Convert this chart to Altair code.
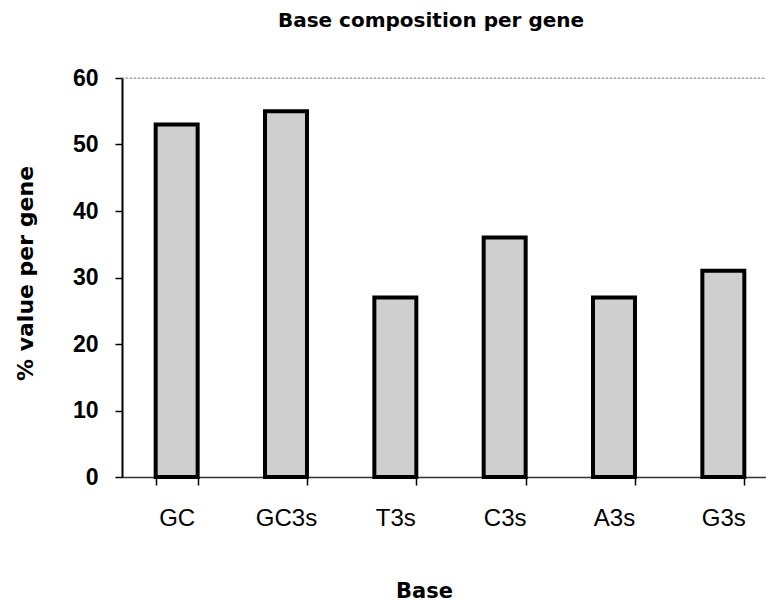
import altair as alt
import pandas as pd

categories = ["GC", "GC3s", "T3s", "C3s", "A3s", "G3s"]
values = [53, 55, 27, 36, 27, 31]
y_ticks = [0, 10, 20, 30, 40, 50, 60]

df = pd.DataFrame({"Base": categories, "value": values})

x_enc = alt.X(
    "Base:N",
    sort=categories,
    scale=alt.Scale(range=[0, 656], paddingInner=0.616, paddingOuter=0.308),
    axis=alt.Axis(
        title="Base",
        titleFont="DejaVu Sans",
        titleFontSize=21,
        titleFontWeight="bold",
        titleColor="black",
        titleX=302,
        titleY=120,
        titleBaseline="alphabetic",
        titleAlign="center",
        labelFont="Liberation Sans",
        labelFontSize=24,
        labelColor="black",
        labelAngle=0,
        labelBaseline="alphabetic",
        labelPadding=40,
        tickBand="extent",
        tickSize=8,
        tickWidth=1.5,
        tickColor="black",
        domainColor="#333333",
        domainWidth=1.5,
        grid=False,
    ),
)

y_enc = alt.Y(
    "value:Q",
    scale=alt.Scale(domain=[0, 60], nice=False),
    axis=alt.Axis(
        title="% value per gene",
        values=y_ticks,
        titleFont="DejaVu Sans",
        titleFontSize=22,
        titleFontWeight="bold",
        titleColor="black",
        titleAngle=-90,
        titleX=-97,
        titleY=195,
        titleAlign="center",
        titleBaseline="middle",
        labelFont="Liberation Sans",
        labelFontSize=23,
        labelFontWeight="bold",
        labelColor="black",
        labelPadding=17,
        tickSize=7,
        tickWidth=1.5,
        tickColor="black",
        domainColor="black",
        domainWidth=2,
        grid=False,
    ),
)

bars = alt.Chart(df).mark_bar(
    fill="#cfcfcf", stroke="black", strokeWidth=4
).encode(x=x_enc, y=y_enc)

top_line = alt.Chart(pd.DataFrame({"v": [60]})).mark_rule(
    color="#8a8a8a", strokeDash=[2, 2], strokeWidth=1
).encode(y=alt.Y("v:Q"), x=alt.value(0), x2=alt.value(644))

chart = alt.layer(top_line, bars).properties(
    width=644,
    height=399,
    autosize=alt.AutoSizeParams(type="none"),
    padding={"left": 122, "top": 78, "right": 0, "bottom": 125},
    title=alt.TitleParams(
        text="Base composition per gene",
        font="DejaVu Sans",
        fontSize=20,
        fontWeight="bold",
        color="black",
        anchor="middle",
        dx=-13,
        baseline="alphabetic",
        offset=20,
    ),
).configure_view(stroke=None).configure(background="white")

chart.save("out.html", embed_options={"renderer": "svg", "actions": False})
